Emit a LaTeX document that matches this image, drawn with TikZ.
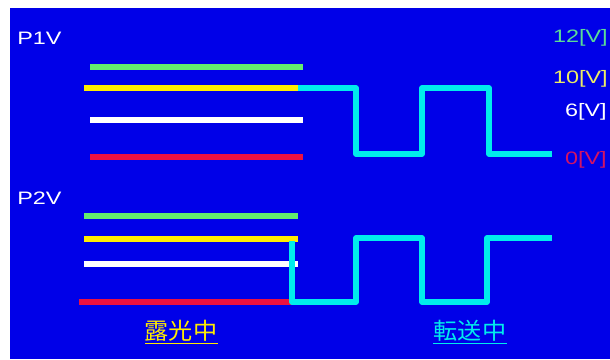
\documentclass[tikz,border=0pt]{standalone}
\usepackage{fontspec}
\setmainfont{Liberation Sans}
\newfontfamily\jpfont{Noto Sans CJK JP}
\definecolor{bg}{RGB}{0,0,232}
\definecolor{lgreen}{RGB}{100,236,110}
\definecolor{lyellow}{RGB}{255,236,0}
\definecolor{lred}{RGB}{236,16,64}
\definecolor{lcyan}{RGB}{0,236,236}
\definecolor{tgreen}{RGB}{90,220,150}
\definecolor{tyellow}{RGB}{236,236,100}
\definecolor{tred}{RGB}{210,20,100}
\begin{document}
\begin{tikzpicture}[x=1pt,y=-1pt,
  lvl/.style={line width=5.5pt},
  wave/.style={line width=5.5pt,color=lcyan,line join=round},
  lbl/.style={inner sep=0pt,font=\fontsize{18}{18}\selectfont,xscale=1.3},
  jp/.style={inner sep=0pt,font=\jpfont\fontsize{23}{23}\selectfont,xscale=1.05}]
\useasboundingbox (0,0) rectangle (610,359);
\fill[white] (0,0) rectangle (610,359);
\fill[bg] (10,8) rectangle (610,359);
% P1V levels
\draw[lvl,lgreen] (90,67) -- (303,67);
\draw[lvl,white] (90,120) -- (303,120);
\draw[lvl,lred] (90,157) -- (303,157);
\draw[lvl,lyellow] (84,88) -- (298,88);
\draw[wave] (298,88) -- (356,88) -- (356,154) -- (422,154) -- (422,88) -- (489,88) -- (489,154) -- (552,154);
% P2V levels
\draw[lvl,lgreen] (84,216) -- (298,216);
\draw[lvl,lyellow] (84,239) -- (298,239);
\draw[lvl,white] (84,264) -- (298,264);
\draw[lvl,lred] (79,302) -- (292,302);
\draw[wave] (292,241) -- (292,302) -- (356,302) -- (356,238) -- (422,238) -- (422,302) -- (487,302) -- (487,238) -- (552,238);
% labels
\node[lbl,white,anchor=west] (p1) at (17,38) {P1V};
\node[lbl,white,anchor=west] (p2) at (17,198) {P2V};
\node[lbl,tgreen,anchor=east] (v12) at (608,38) {12[V]};
\node[lbl,tyellow,anchor=east] (v10) at (608,79) {10[V]};
\node[lbl,white,anchor=east] (v6) at (607,112) {6[V]};
\node[lbl,tred,anchor=east] (v0) at (607,160) {0[V]};
\node[jp,lyellow] (ex) at (181,331) {露光中};
\node[jp,lcyan] (tr) at (470,331) {転送中};
\draw[lyellow,line width=1.2pt] (145,343.5) -- (218,343.5);
\draw[lcyan,line width=1.2pt] (433,343.5) -- (507,343.5);
\end{tikzpicture}
\end{document}
